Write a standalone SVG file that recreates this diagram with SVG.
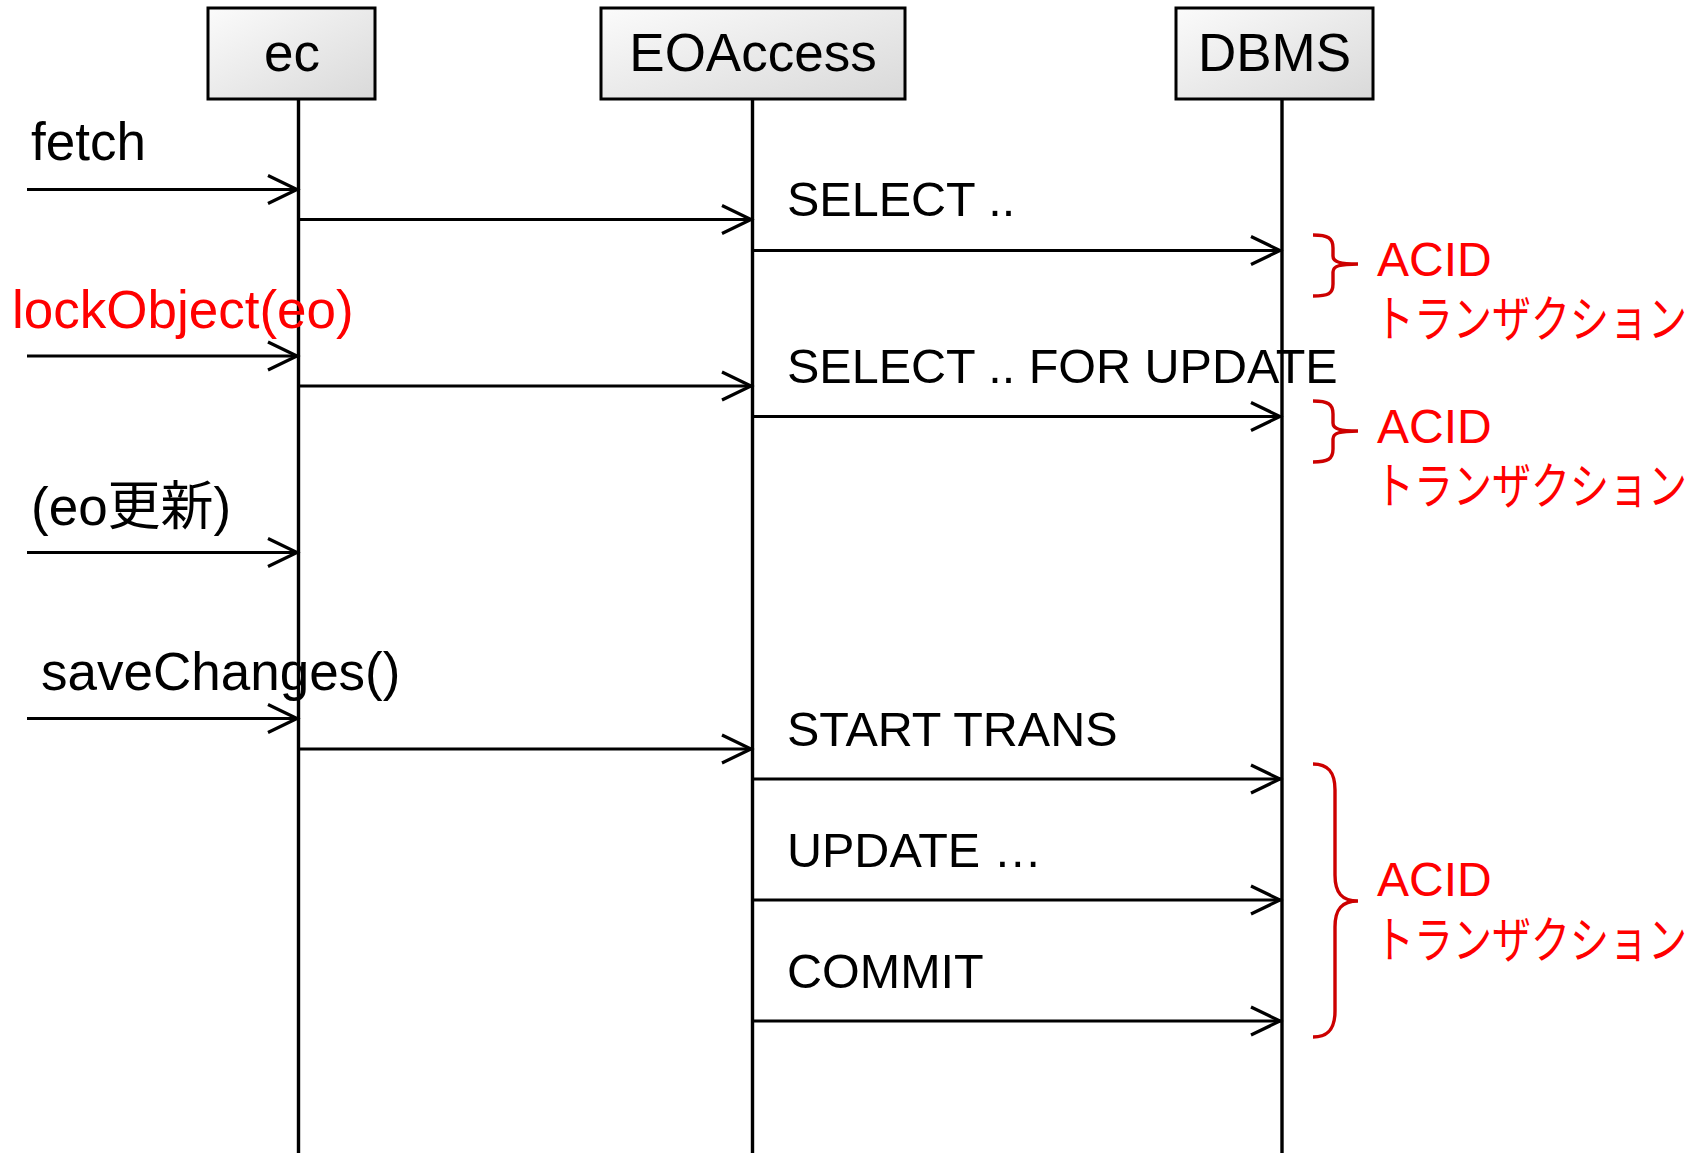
<svg xmlns="http://www.w3.org/2000/svg" width="1702" height="1153" viewBox="0 0 1702 1153">
<defs>
<linearGradient id="boxfill" x1="0" y1="0" x2="1" y2="1">
<stop offset="0" stop-color="#fbfbfb"/>
<stop offset="1" stop-color="#d9d9d9"/>
</linearGradient>
<marker id="open" markerUnits="userSpaceOnUse" markerWidth="40" markerHeight="40" refX="32" refY="16" orient="auto" viewBox="0 0 40 32">
<path d="M2,2 L31,16 L2,30" fill="none" stroke="#000" stroke-width="3.2"/>
</marker>
</defs>
<style>
.box{fill:url(#boxfill);stroke:#000;stroke-width:3}
.life{stroke:#000;stroke-width:3.4;fill:none}
.msg{stroke:#000;stroke-width:3;fill:none;marker-end:url(#open)}
.t{font-family:"Liberation Sans","Noto Sans CJK JP",sans-serif;font-size:48.5px;fill:#000}
.l{font-family:"Liberation Sans","Noto Sans CJK JP",sans-serif;font-size:53px;fill:#000}
.bt{font-family:"Liberation Sans",sans-serif;font-size:53px;fill:#000;text-anchor:middle}
.red{fill:#ff0000}
.brace{fill:none;stroke:#cc0000;stroke-width:3.4}
.acid{font-family:"Liberation Sans","Noto Sans CJK JP",sans-serif;font-size:48px;fill:#ff0000}
.kana{font-family:"Noto Sans CJK JP",sans-serif;font-size:50px;fill:#ff0000}
</style>
<rect width="1702" height="1153" fill="#fff"/>
<g id="ec">
<rect class="box" x="208" y="8" width="167" height="91"/>
<text class="bt" x="292" y="71">ec</text>
<line class="life" x1="298.5" y1="99" x2="298.5" y2="1153"/>
</g>
<g id="EOAccess">
<rect class="box" x="601" y="8" width="304" height="91"/>
<text class="bt" x="753" y="71">EOAccess</text>
<line class="life" x1="752.5" y1="99" x2="752.5" y2="1153"/>
</g>
<g id="DBMS">
<rect class="box" x="1176" y="8" width="197" height="91"/>
<text class="bt" x="1274.5" y="71">DBMS</text>
<line class="life" x1="1282" y1="99" x2="1282" y2="1153"/>
</g>
<g id="connectors">
<line class="msg" x1="27" y1="189.5" x2="298" y2="189.5"/>
<line class="msg" x1="298" y1="219.5" x2="752" y2="219.5"/>
<line class="msg" x1="752" y1="250.5" x2="1281" y2="250.5"/>
<line class="msg" x1="27" y1="356" x2="298" y2="356"/>
<line class="msg" x1="298" y1="386" x2="752" y2="386"/>
<line class="msg" x1="752" y1="416.5" x2="1281" y2="416.5"/>
<line class="msg" x1="27" y1="552.5" x2="298" y2="552.5"/>
<line class="msg" x1="27" y1="718.5" x2="298" y2="718.5"/>
<line class="msg" x1="298" y1="749" x2="752" y2="749"/>
<line class="msg" x1="752" y1="779" x2="1281" y2="779"/>
<line class="msg" x1="752" y1="900" x2="1281" y2="900"/>
<line class="msg" x1="752" y1="1021" x2="1281" y2="1021"/>
</g>
<g id="labels">
<text class="l" x="31" y="160">fetch</text>
<text class="l red" x="12" y="328">lockObject(eo)</text>
<text class="l" x="31" y="525">(eo更新)</text>
<text class="l" x="41" y="690">saveChanges()</text>
<text class="t" x="787" y="216">SELECT ..</text>
<text class="t" x="787" y="383">SELECT .. FOR UPDATE</text>
<text class="t" x="787" y="746">START TRANS</text>
<text class="t" x="787" y="867">UPDATE …</text>
<text class="t" x="787" y="988">COMMIT</text>
</g>
<g id="acid1">
<path class="brace" d="M1313,235 C1328,235 1333,238 1333,248 L1333,256 C1333,262 1340,264 1358,264 C1340,264 1333,266 1333,272 L1333,284 C1333,294 1328,296 1313,296"/>
<text class="acid" x="1377" y="276">ACID</text>
<text class="kana" transform="translate(1375,337) scale(0.78,1)">トランザクション</text>
</g>
<g id="acid2">
<path class="brace" d="M1313,401 C1328,401 1333,404 1333,414 L1333,423 C1333,429 1340,431 1358,431 C1340,431 1333,433 1333,439 L1333,449 C1333,459 1328,462 1313,462"/>
<text class="acid" x="1377" y="443">ACID</text>
<text class="kana" transform="translate(1375,504) scale(0.78,1)">トランザクション</text>
</g>
<g id="acid3">
<path class="brace" d="M1313,764 C1328,764 1335,772 1335,790 L1335,875 C1335,893 1342,901 1358,901 C1342,901 1335,909 1335,927 L1335,1011 C1335,1029 1328,1037 1313,1037"/>
<text class="acid" x="1377" y="896">ACID</text>
<text class="kana" transform="translate(1375,958) scale(0.78,1)">トランザクション</text>
</g>
</svg>
